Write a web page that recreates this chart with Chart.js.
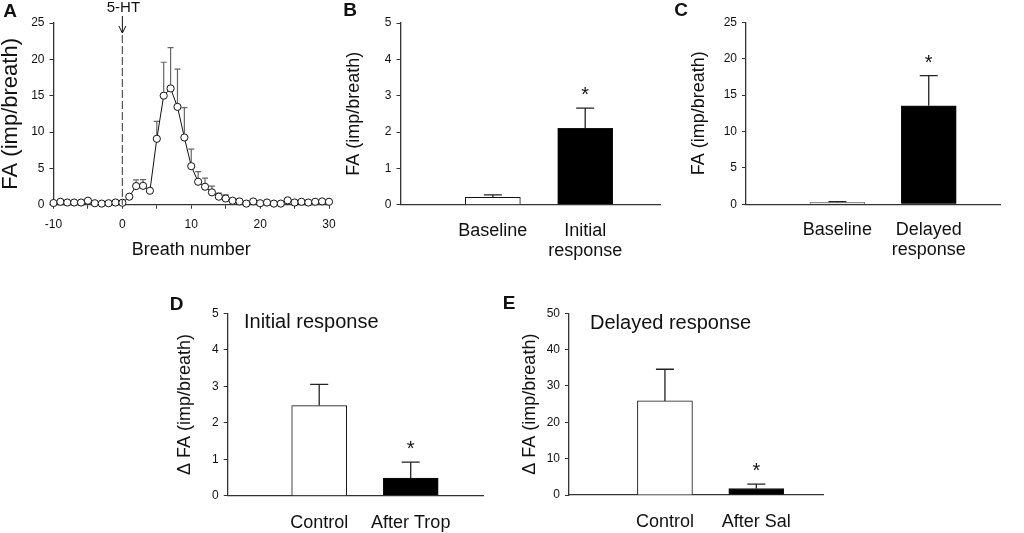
<!DOCTYPE html>
<html>
<head>
<meta charset="utf-8">
<script src="https://cdn.jsdelivr.net/npm/chart.js@4.4.0/dist/chart.umd.min.js"></script>
<style>
  html, body { margin: 0; padding: 0; background: #fff; }
  body { width: 1024px; height: 533px; position: relative; overflow: hidden; }
  canvas { position: absolute; }
</style>
</head>
<body>
<canvas id="chartA" width="340" height="265" style="left:0px;top:0px"></canvas>
<canvas id="chartB" width="335" height="265" style="left:340px;top:0px"></canvas>
<canvas id="chartC" width="349" height="265" style="left:675px;top:0px"></canvas>
<canvas id="chartD" width="335" height="248" style="left:160px;top:285px"></canvas>
<canvas id="chartE" width="340" height="248" style="left:495px;top:285px"></canvas>
<script>
// panel A: firing per breath around 5-HT injection
const breath = [-10, -9, -8, -7, -6, -5, -4, -3, -2, -1, 0, 1, 2, 3, 4, 5, 6, 7, 8, 9, 10,
  11, 12, 13, 14, 15, 16, 17, 18, 19, 20, 21, 22, 23, 24, 25, 26, 27, 28, 29, 30];
const faMean = [0.23, 0.4, 0.3, 0.3, 0.3, 0.55, 0.2, 0.15, 0.2, 0.3, 0.27, 1.1, 2.56, 2.6, 1.92,
  9.07, 15.0, 16.0, 13.46, 9.25, 5.3, 3.16, 2.47, 1.7, 1.1, 0.85, 0.55, 0.45, 0.15, 0.45, 0.2,
  0.3, 0.15, 0.15, 0.6, 0.3, 0.4, 0.3, 0.4, 0.45, 0.4];
const faSem = [0, 0, 0, 0, 0, 0, 0, 0, 0, 0, 0, 0, 0.85, 0.85, 0,
  2.4, 4.6, 5.6, 5.2, 4.1, 2.35, 1.4, 1.2, 0.85, 0.5, 0.5, 0.25, 0.15, 0, 0, 0,
  0, 0, 0, 0, 0, 0, 0, 0, 0, 0];

// panel B
const bLabels = [["Baseline"], ["Initial", "response"]];
const bMean = [0.2, 2.1];
const bSem = [0.07, 0.56];
const bSig = [false, true];

// panel C
const cLabels = [["Baseline"], ["Delayed", "response"]];
const cMean = [0.22, 13.55];
const cSem = [0.13, 4.15];
const cSig = [false, true];

// panel D
const dLabels = [["Control"], ["After Trop"]];
const dMean = [2.47, 0.48];
const dSem = [0.58, 0.44];
const dSig = [false, true];

// panel E
const eLabels = [["Control"], ["After Sal"]];
const eMean = [25.9, 1.8];
const eSem = [8.7, 1.2];
const eSig = [false, true];

Chart.defaults.font.family = "'Liberation Sans', Arial, sans-serif";
Chart.defaults.color = "#111";
Chart.defaults.animation = false;

const AXIS = "#333";

// error bars, asterisks, panel letters and titles
const extras = {
  id: "extras",
  beforeDatasetsDraw(chart, args, o) {
    if (!o.sem) return;
    const ctx = chart.ctx, xs = chart.scales.x, ys = chart.scales.y;
    const pts = chart.data.datasets[0].data;
    ctx.save();
    ctx.strokeStyle = o.errColor;
    ctx.lineWidth = o.errWidth;
    o.sem.forEach((s, i) => {
      if (!s) return;
      const x = xs.getPixelForValue(pts[i].x);
      const y0 = ys.getPixelForValue(pts[i].y);
      const y1 = ys.getPixelForValue(pts[i].y + s);
      ctx.beginPath();
      ctx.moveTo(x, y0);
      ctx.lineTo(x, y1);
      ctx.moveTo(x - o.capW / 2, y1);
      ctx.lineTo(x + o.capW / 2, y1);
      ctx.stroke();
    });
    ctx.restore();
  },
  afterDraw(chart, args, o) {
    const ctx = chart.ctx, xs = chart.scales.x, ys = chart.scales.y;
    ctx.save();
    ctx.fillStyle = "#111";
    if (o.sig) {
      const pts = chart.data.datasets[0].data;
      ctx.font = "20px 'Liberation Sans', Arial, sans-serif";
      ctx.textAlign = "center";
      ctx.textBaseline = "alphabetic";
      o.sig.forEach((s, i) => {
        if (!s) return;
        const x = xs.getPixelForValue(pts[i].x);
        const y = ys.getPixelForValue(pts[i].y + o.sem[i]);
        ctx.fillText("*", x, y - 15 + 8);
      });
    }
    if (o.letter) {
      ctx.font = "bold 19px 'Liberation Sans', Arial, sans-serif";
      ctx.textAlign = "center";
      ctx.textBaseline = "middle";
      ctx.fillText(o.letter, o.letterX, o.letterY);
    }
    if (o.title) {
      ctx.font = "20px 'Liberation Sans', Arial, sans-serif";
      ctx.textAlign = "left";
      ctx.textBaseline = "middle";
      ctx.fillText(o.title, o.titleX, o.titleY);
    }
    if (o.inject !== undefined) {
      const x = xs.getPixelForValue(o.inject);
      ctx.strokeStyle = "#555";
      ctx.lineWidth = 1.2;
      ctx.setLineDash([8, 3]);
      ctx.beginPath();
      ctx.moveTo(x, 35);
      ctx.lineTo(x, chart.chartArea.bottom);
      ctx.stroke();
      ctx.setLineDash([]);
      ctx.strokeStyle = "#111";
      ctx.lineWidth = 1;
      ctx.beginPath();
      ctx.moveTo(x, 16);
      ctx.lineTo(x, 33);
      ctx.moveTo(x - 3.5, 26);
      ctx.lineTo(x, 33);
      ctx.lineTo(x + 3.5, 26);
      ctx.stroke();
      ctx.font = "15px 'Liberation Sans', Arial, sans-serif";
      ctx.textAlign = "center";
      ctx.textBaseline = "middle";
      ctx.fillText("5-HT", x + 1, 8);
    }
    ctx.restore();
  }
};
Chart.register(extras);

function yAxis(max, step, width, title, titleSize, titlePad) {
  return {
    type: "linear",
    min: 0,
    max: max,
    afterFit(scale) { scale.width = width; scale.paddingTop = 0; scale.paddingBottom = 0; },
    ticks: { stepSize: step, padding: 5, font: { size: 12 }, color: "#111" },
    grid: { display: true, drawOnChartArea: false, drawTicks: true, tickLength: 4, color: AXIS, lineWidth: 1 },
    border: { display: true, color: AXIS, width: 1.3 },
    title: { display: true, text: title, font: { size: titleSize, lineHeight: 1 }, padding: { top: titlePad, bottom: 0 }, color: "#111" }
  };
}

// panel A
new Chart(document.getElementById("chartA"), {
  type: "line",
  data: {
    datasets: [{
      data: breath.map((b, i) => ({ x: b, y: faMean[i] })),
      borderColor: "#111",
      borderWidth: 1,
      pointRadius: 3.6,
      pointBorderWidth: 1,
      pointBorderColor: "#111",
      pointBackgroundColor: "#fff",
      clip: false
    }]
  },
  options: {
    responsive: false,
    layout: { padding: { left: 0, top: 23, right: 11, bottom: 0 } },
    plugins: {
      legend: { display: false },
      tooltip: { enabled: false },
      extras: { sem: faSem, errColor: "#666", errWidth: 1.2, capW: 6, letter: "A", letterX: 10, letterY: 12, inject: 0 }
    },
    scales: {
      x: {
        type: "linear",
        min: -10,
        max: 30,
        afterFit(scale) { scale.height = 265 - 204.7; scale.paddingLeft = 0; scale.paddingRight = 0; },
        ticks: { stepSize: 5, padding: 9, font: { size: 12 }, color: "#111", maxRotation: 0, autoSkip: false,
          callback: (v) => (v % 10 === 0 ? v : "") },
        grid: { display: true, drawOnChartArea: false, drawTicks: true, tickLength: 4, color: AXIS, lineWidth: 1 },
        border: { display: true, color: AXIS, width: 1.3 },
        title: { display: true, text: "Breath number", font: { size: 18, lineHeight: 1 }, padding: { top: 0, bottom: 6 }, color: "#111" }
      },
      y: yAxis(25, 5, 53.5, "FA (imp/breath)", 22, 0)
    }
  }
});

function barPanel(id, p) {
  new Chart(document.getElementById(id), {
    type: "bar",
    data: {
      datasets: [{
        data: p.mean.map((v, i) => ({ x: i + 1, y: v })),
        backgroundColor: ["#fff", "#000"],
        borderColor: "#111",
        borderWidth: 1,
        borderSkipped: "bottom",
        barThickness: 55
      }]
    },
    options: {
      responsive: false,
      layout: { padding: { left: 0, top: p.top, right: p.right, bottom: 0 } },
      plugins: {
        legend: { display: false },
        tooltip: { enabled: false },
        extras: { sem: p.sem, sig: p.sig, errColor: "#222", errWidth: 1.3, capW: 18,
          letter: p.letter, letterX: p.letterX, letterY: p.letterY,
          title: p.title, titleX: p.titleX, titleY: p.titleY }
      },
      scales: {
        x: {
          type: "linear",
          min: p.xMin,
          max: p.xMax,
          offset: false,
          afterFit(scale) { scale.height = p.xHeight; scale.paddingLeft = 0; scale.paddingRight = 0; },
          afterBuildTicks(scale) { scale.ticks = p.labels.map((l, i) => ({ value: i + 1 })); },
          ticks: { padding: p.labPad, font: { size: 18, lineHeight: 1.12 }, color: "#111", maxRotation: 0, autoSkip: false,
            callback: (v, i) => p.labels[i] },
          grid: { display: false, offset: false },
          border: { display: true, color: AXIS, width: 1.3 }
        },
        y: yAxis(p.max, p.step, p.yWidth, p.yTitle, 18, p.titlePad)
      }
    }
  });
}

barPanel("chartB", { mean: bMean, sem: bSem, sig: bSig, labels: bLabels, max: 5, step: 1,
  top: 23, right: 15, yWidth: 60.5, xHeight: 265 - 204.7, xMin: 0, xMax: 2.81, labPad: 8,
  yTitle: "FA (imp/breath)", titlePad: 5.5, letter: "B", letterX: 10, letterY: 11 });

barPanel("chartC", { mean: cMean, sem: cSem, sig: cSig, labels: cLabels, max: 25, step: 5,
  top: 22.5, right: 24, yWidth: 71, xHeight: 265 - 204.2, xMin: 0, xMax: 2.78, labPad: 8,
  yTitle: "FA (imp/breath)", titlePad: 15.5, letter: "C", letterX: 6, letterY: 11 });

barPanel("chartD", { mean: dMean, sem: dSem, sig: dSig, labels: dLabels, max: 5, step: 1,
  top: 28.3, right: 12, yWidth: 67.7, xHeight: 248 - 210.7, xMin: 0, xMax: 2.79, labPad: 9,
  yTitle: "\u0394 FA (imp/breath)", titlePad: 16, letter: "D", letterX: 16.5, letterY: 20,
  title: "Initial response", titleX: 84, titleY: 37 });

barPanel("chartE", { mean: eMean, sem: eSem, sig: eSig, labels: eLabels, max: 50, step: 10,
  top: 28.3, right: 12, yWidth: 74, xHeight: 248 - 210, xMin: -0.05, xMax: 2.73, labPad: 9,
  yTitle: "\u0394 FA (imp/breath)", titlePad: 26, letter: "E", letterX: 14, letterY: 18.5,
  title: "Delayed response", titleX: 95, titleY: 38 });
</script>
</body>
</html>
